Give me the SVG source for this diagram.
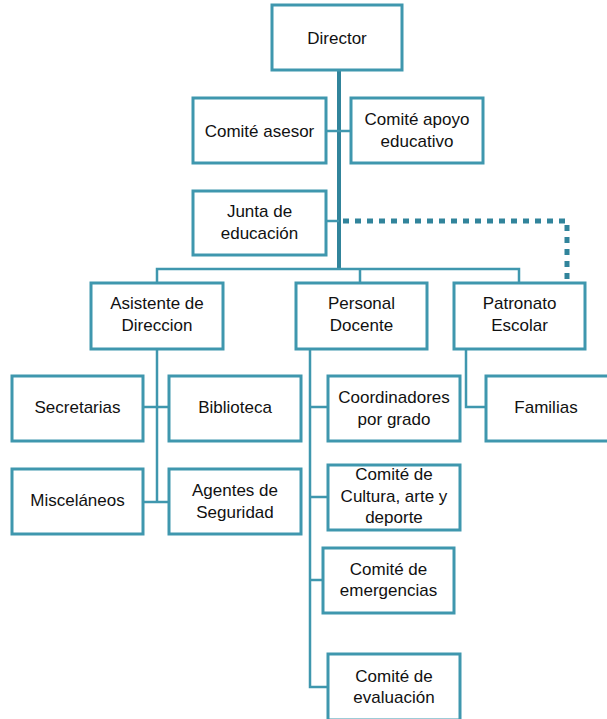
<svg xmlns="http://www.w3.org/2000/svg" width="607" height="719" viewBox="0 0 607 719">
<style>
.box{fill:#fff;stroke:#3f97ae;stroke-width:3}
.t{font-family:"Liberation Sans",Arial,sans-serif;font-size:17px;fill:#111;text-anchor:middle}
.c{fill:none;stroke:#3f97ae;stroke-width:2.5}
.trunk{fill:none;stroke:#31849b;stroke-width:4}
.dot{fill:none;stroke:#31849b;stroke-width:5;stroke-dasharray:6 6}
</style>
<rect width="607" height="719" fill="#fff"/>
<g id="connectors">
<line class="trunk" x1="339" y1="70" x2="339" y2="270"/>
<line class="c" x1="326" y1="131" x2="351" y2="131"/>
<line class="c" x1="326" y1="221" x2="339" y2="221"/>
<polyline class="c" points="157,283 157,269 519,269 519,283"/>
<line class="c" x1="360" y1="269" x2="360" y2="283"/>
<polyline class="dot" points="343,221 567,221 567,279"/>
<line class="c" x1="157" y1="349" x2="157" y2="502"/>
<line class="c" x1="143" y1="407" x2="169" y2="407"/>
<line class="c" x1="143" y1="502" x2="169" y2="502"/>
<polyline class="c" points="310,349 310,687 328,687"/>
<line class="c" x1="310" y1="407" x2="328" y2="407"/>
<line class="c" x1="310" y1="497" x2="328" y2="497"/>
<line class="c" x1="310" y1="580" x2="323" y2="580"/>
<polyline class="c" points="466,349 466,407 486,407"/>
</g>
<g id="director"><rect class="box" x="272" y="5" width="130" height="65"/><text class="t" x="337" y="44">Director</text></g>
<g id="comite-asesor"><rect class="box" x="193" y="98" width="133" height="65"/><text class="t" x="259.5" y="137">Comité asesor</text></g>
<g id="comite-apoyo"><rect class="box" x="351" y="98" width="132" height="65"/><text class="t" x="417" y="125">Comité apoyo</text><text class="t" x="417" y="147">educativo</text></g>
<g id="junta"><rect class="box" x="193" y="191" width="133" height="64"/><text class="t" x="259.5" y="217">Junta de</text><text class="t" x="259.5" y="239">educación</text></g>
<g id="asistente"><rect class="box" x="91" y="283" width="132" height="66"/><text class="t" x="157" y="309">Asistente de</text><text class="t" x="157" y="331">Direccion</text></g>
<g id="personal"><rect class="box" x="296" y="283" width="131" height="66"/><text class="t" x="361.5" y="309">Personal</text><text class="t" x="361.5" y="331">Docente</text></g>
<g id="patronato"><rect class="box" x="454" y="283" width="131" height="66"/><text class="t" x="519.5" y="309">Patronato</text><text class="t" x="519.5" y="331">Escolar</text></g>
<g id="secretarias"><rect class="box" x="12" y="376" width="131" height="65"/><text class="t" x="77.5" y="413">Secretarias</text></g>
<g id="biblioteca"><rect class="box" x="169" y="376" width="132" height="65"/><text class="t" x="235" y="413">Biblioteca</text></g>
<g id="miscelaneos"><rect class="box" x="12" y="469" width="131" height="65"/><text class="t" x="77.5" y="506">Misceláneos</text></g>
<g id="agentes"><rect class="box" x="169" y="469" width="132" height="65"/><text class="t" x="235" y="496">Agentes de</text><text class="t" x="235" y="518">Seguridad</text></g>
<g id="coordinadores"><rect class="box" x="328" y="376" width="132" height="65"/><text class="t" x="394" y="403">Coordinadores</text><text class="t" x="394" y="425">por grado</text></g>
<g id="cultura"><rect class="box" x="328" y="465" width="132" height="65"/><text class="t" x="394" y="480">Comité de</text><text class="t" x="394" y="502">Cultura, arte y</text><text class="t" x="394" y="523">deporte</text></g>
<g id="emergencias"><rect class="box" x="323" y="548" width="131" height="65"/><text class="t" x="388.5" y="575">Comité de</text><text class="t" x="388.5" y="596">emergencias</text></g>
<g id="evaluacion"><rect class="box" x="328" y="654" width="132" height="66"/><text class="t" x="394" y="682">Comité de</text><text class="t" x="394" y="703">evaluación</text></g>
<g id="familias"><rect class="box" x="486" y="376" width="125" height="65"/><text class="t" x="546" y="413">Familias</text></g>
</svg>
